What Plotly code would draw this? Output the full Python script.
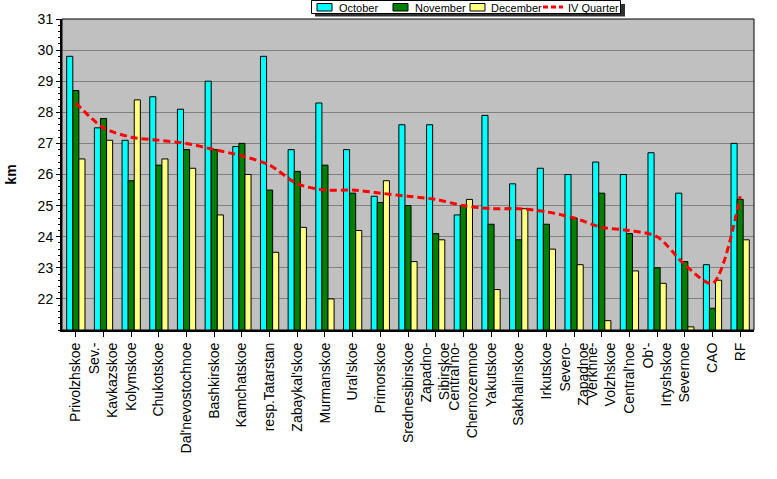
import plotly.graph_objects as go

categories = ["Privolzhskoe", "Sev.-<br>Kavkazskoe", "Kolymskoe", "Chukotskoe",
              "Dal'nevostochnoe", "Bashkirskoe", "Kamchatskoe", "resp.Tatarstan",
              "Zabaykal'skoe", "Murmanskoe", "Ural'skoe", "Primorskoe",
              "Srednesibirskoe", "Zapadno-<br>Sibirskoe", "Central'no-<br>Chernozemnoe",
              "Yakutskoe", "Sakhalinskoe", "Irkutskoe", "Severo-<br>Zapadnoe",
              "Verkhne-<br>Volzhskoe", "Central'noe", "Ob'-<br>Irtyshskoe", "Severnoe",
              "CAO", "RF"]

october = [29.8, 27.5, 27.1, 28.5, 28.1, 29.0, 26.9, 29.8, 26.8, 28.3, 26.8, 25.3,
           27.6, 27.6, 24.7, 27.9, 25.7, 26.2, 26.0, 26.4, 26.0, 26.7, 25.4, 23.1, 27.0]
november = [28.7, 27.8, 25.8, 26.3, 26.8, 26.8, 27.0, 25.5, 26.1, 26.3, 25.4, 25.1,
            25.0, 24.1, 25.0, 24.4, 23.9, 24.4, 24.6, 25.4, 24.1, 23.0, 23.2, 21.7, 25.2]
december = [26.5, 27.1, 28.4, 26.5, 26.2, 24.7, 26.0, 23.5, 24.3, 22.0, 24.2, 25.8,
            23.2, 23.9, 25.2, 22.3, 24.9, 23.6, 23.1, 21.3, 22.9, 22.5, 21.1, 22.6, 23.9]
iv_quarter = [28.3, 27.5, 27.2, 27.1, 27.0, 26.8, 26.6, 26.3, 25.7, 25.5, 25.5, 25.4,
              25.3, 25.2, 25.0, 24.9, 24.9, 24.8, 24.6, 24.3, 24.2, 24.0, 23.1, 22.5, 25.3]

series_names = ["October", "November", "December", "IV Quarter"]
series_colors = ["#00FFFF", "#008000", "#FFFF80", "#FF0000"]

y_ticks = list(range(22, 32))

font = "Liberation Sans, Arial, sans-serif"
outline = dict(color="black", width=1)

fig = go.Figure()
for name, vals, col in zip(series_names[:3], [october, november, december], series_colors[:3]):
    fig.add_trace(go.Bar(name=name, x=categories, y=vals,
                         marker=dict(color=col, line=outline)))
fig.add_trace(go.Scatter(name=series_names[3], x=categories, y=iv_quarter, mode="lines",
                         line=dict(color=series_colors[3], width=3, dash="7px,4px",
                                   shape="spline", smoothing=0.8)))

W, H = 777, 479
ML, MR, MT, MB = 62, 23, 19, 149
fig.update_layout(
    width=W, height=H,
    margin=dict(l=ML, r=MR, t=MT, b=MB, autoexpand=False),
    paper_bgcolor="white", plot_bgcolor="#C0C0C0",
    barmode="group", bargap=0.34, bargroupgap=0,
    font=dict(family=font, size=14, color="black"),
    showlegend=False,
)
fig.update_xaxes(showline=True, linecolor="black", linewidth=2, ticks="outside",
                 ticklen=5, tickcolor="black", tickangle=-90, showgrid=False,
                 tickfont=dict(size=14, family=font))
fig.update_yaxes(range=[21, 31], tickvals=y_ticks, showline=True, linecolor="black",
                 linewidth=2, ticks="outside", ticklen=4, tickcolor="black",
                 showgrid=True, gridcolor="#808080", gridwidth=1,
                 zeroline=False, tickfont=dict(size=14, family=font),
                 minor=dict(tick0=21, dtick=0.2, ticks="outside", ticklen=2,
                            tickcolor="black", showgrid=False),
                 title=dict(text="<b>km</b>", font=dict(size=14, family=font), standoff=18))
fig.add_shape(type="rect", xref="paper", yref="paper", x0=0, y0=0, x1=1, y1=1,
              line=dict(color="black", width=1), layer="above")

# legend box drawn in page pixels, converted to paper coords
PW = W - ML - MR
PH = H - MT - MB


def px(x):
    return (x - ML) / PW


def py(y):
    return (H - MB - y) / PH


fig.add_shape(type="rect", xref="paper", yref="paper", x0=px(315), x1=px(625),
              y0=py(4), y1=py(16.5), fillcolor="#303030", line=dict(width=0), layer="above")
fig.add_shape(type="rect", xref="paper", yref="paper", x0=px(311.5), x1=px(620.5),
              y0=py(0.5), y1=py(13.5), fillcolor="white",
              line=dict(color="black", width=1), layer="above")
swatch_x = [317, 393, 470]
text_x = [337, 413, 489, 566]
for sx, col in zip(swatch_x, series_colors[:3]):
    fig.add_shape(type="rect", xref="paper", yref="paper", x0=px(sx), x1=px(sx + 15),
                  y0=py(3.5), y1=py(11), fillcolor=col,
                  line=dict(color="black", width=1), layer="above")
fig.add_shape(type="line", xref="paper", yref="paper", x0=px(543), x1=px(563),
              y0=py(7), y1=py(7), line=dict(color=series_colors[3], width=3, dash="5px,3px"),
              layer="above")
for tx, name in zip(text_x, series_names):
    fig.add_annotation(text=name, xref="paper", yref="paper", x=px(tx), y=py(7.5),
                       xanchor="left", yanchor="middle", showarrow=False,
                       font=dict(size=11, family=font, color="black"))

fig.write_html("out.html", config={"displayModeBar": False},
               post_script="document.body.style.margin='0px';document.body.style.overflow='hidden';")
